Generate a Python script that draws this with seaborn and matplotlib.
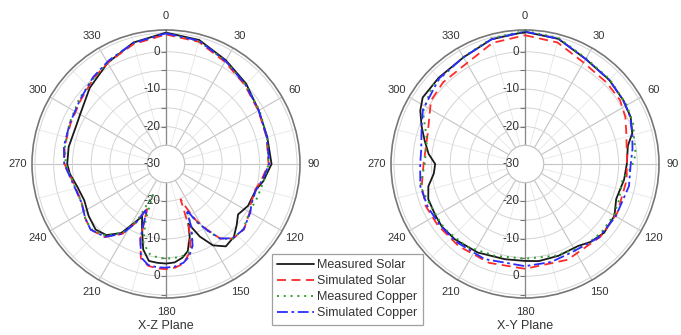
import numpy as np
import pandas as pd
import matplotlib
matplotlib.use("Agg")
import matplotlib.pyplot as plt
import seaborn as sns

# ---- data (dB vs angle in degrees) ----
xz_black_ang = [0, 15, 30, 45, 60, 75, 90, 100, 106, 117, 125, 131, 137, 144, 150, 155, 159.5,
                162, 166, 170, 175, 180, 185, 190, 195, 201, 204.5, 208.5, 213, 220, 227, 236,
                246, 256, 264, 270, 280, 294, 300, 315, 330, 345, 360]
xz_black = [5.1, 4.3, 2.0, 0.3, -1.4, -2.0, -1.8, -3.6, -5.0, -5.4, -6.5, -5.0, -3.4, -2.8, -4.9,
            -8.6, -13.0, -9.5, -6.0, -4.6, -3.6, -3.4, -3.5, -3.7, -6.4, -12.1, -14.6, -12.0, -8.0,
            -5.2, -4.3, -5.1, -6.1, -5.5, -4.2, -3.6, -3.6, -3.9, -3.5, -1.2, 1.2, 3.6, 5.1]

xz_red_ang = [0, 15, 30, 45, 60, 75, 90, 100, 106, 115, 120, 130, 138, 144, 148, 152, 155, 157.5,
              160, 164, 170, 175, 180, 185, 190, 195, 199, 203, 207, 212, 220, 229, 236, 246,
              260, 270, 280, 293, 307, 320, 331, 345, 360]
xz_red = [4.6, 3.8, 1.5, -0.2, -1.5, -2.2, -2.6, -4.2, -5.2, -5.0, -4.2, -2.8, -3.2, -5.4, -9.4,
          -13.0, -17.0, -19.8, -12.0, -6.0, -3.0, -2.2, -1.9, -2.0, -2.4, -4.0, -9.0, -17.5, -12.5,
          -8.0, -4.5, -3.3, -4.0, -5.3, -4.6, -2.9, -2.5, -2.3, -1.5, 0.0, 1.3, 3.2, 4.6]

xz_green_ang = [0, 15, 30, 45, 60, 75, 90, 100, 110, 120, 130, 138, 144, 148, 152, 156, 158,
                162, 166, 170, 175, 180, 185, 190, 196, 200, 203, 207, 212, 220, 229, 236, 246,
                262, 270, 280, 293, 307, 318, 331, 345, 360]
xz_green = [4.9, 4.0, 1.8, 0.0, -1.2, -2.0, -2.6, -3.5, -4.0, -4.3, -3.0, -3.2, -5.2, -9.0,
            -12.5, -16.6, -12.0, -7.0, -5.6, -5.0, -4.8, -4.7, -4.9, -5.5, -8.0, -14.0, -21.0,
            -13.0, -8.5, -5.0, -3.5, -4.0, -5.2, -4.4, -3.2, -2.6, -2.0, -1.0, -0.2, 1.5, 3.5, 4.9]

xz_blue_ang = [0, 15, 30, 45, 60, 75, 90, 100, 106, 115, 120, 130, 138, 144, 148, 152, 156,
               158, 162, 166, 170, 175, 180, 185, 190, 195, 199, 203, 207, 212, 220, 229, 236,
               246, 260, 270, 280, 293, 307, 320, 331, 345, 360]
xz_blue = [4.9, 4.1, 1.8, 0.0, -1.4, -2.1, -2.4, -4.0, -5.0, -4.8, -4.0, -2.9, -3.3, -5.4, -9.0,
           -12.5, -16.6, -12.0, -7.0, -4.5, -3.2, -2.5, -2.3, -2.3, -2.6, -4.2, -9.0, -17.0,
           -12.5, -8.0, -4.6, -3.3, -4.0, -5.2, -4.4, -2.8, -2.3, -2.1, -1.3, 0.3, 1.6, 3.5, 4.9]

xy_black_ang = [0, 15, 30, 45, 57, 66, 74, 80, 90, 99, 111, 120, 131, 140, 147, 160, 172, 180,
                192, 208, 223, 233, 240, 250, 257, 264, 270, 276, 283, 290, 297, 303, 315, 330,
                345, 360]
xy_black = [5.3, 4.6, 2.4, 1.8, 1.3, 0.9, -0.2, -2.1, -2.8, -3.2, -3.9, -2.4, -2.0, -2.8, -3.9,
            -3.9, -3.8, -4.1, -4.0, -3.2, -2.5, -2.2, -2.4, -2.5, -3.5, -5.5, -6.0, -4.1, -2.5,
            -0.6, 1.4, 2.6, 2.6, 2.9, 4.5, 5.3]

xy_red_ang = [0, 15, 30, 45, 56, 65, 73, 86, 99, 118, 134, 156, 180, 200, 219, 235, 247, 258,
              270, 287, 304, 315, 330, 345, 360]
xy_red = [4.4, 3.6, 1.3, 0.8, 0.6, -0.4, -1.7, -2.7, -2.5, -2.1, -2.0, -2.0, -2.0, -1.9, -1.8,
          -1.5, -1.2, -1.8, -2.9, -2.8, 0.3, 0.9, 1.1, 3.5, 4.4]

xy_green_ang = [0, 15, 30, 45, 60, 70, 78, 85, 92, 99, 111, 120, 132, 144, 162, 180, 198, 215,
                231, 239, 250, 258, 270, 284, 297, 310, 330, 345, 360]
xy_green = [5.6, 4.8, 2.6, 2.0, 1.4, 0.8, -0.2, -0.3, -1.6, -3.6, -3.1, -2.6, -2.6, -2.9, -4.2,
            -4.7, -4.2, -3.0, -2.4, -2.6, -2.2, -1.4, -3.2, -3.0, 0.6, 2.4, 3.0, 4.7, 5.6]

xy_blue_ang = [0, 15, 30, 45, 57, 66, 74, 82, 91, 102, 120, 135, 152, 165, 180, 203, 222, 235,
               246, 258, 270, 278, 290, 298, 315, 330, 345, 360]
xy_blue = [5.4, 4.6, 2.4, 1.8, 1.3, 0.8, -0.2, -1.0, -1.8, -1.6, -2.0, -2.2, -3.3, -2.9, -2.7,
           -2.4, -2.2, -2.0, -1.6, -1.4, -2.0, -2.0, -0.6, 0.9, 2.4, 2.9, 4.5, 5.4]

series_names = ["Measured Solar", "Simulated Solar", "Measured Copper", "Simulated Copper"]
series_colors = ["#1a1a1a", "#ff2a2a", "#2ca02c", "#2b2bff"]
series_styles = ["-", (0, (5, 3)), (0, (1, 2.5)), (0, (6, 2, 1.5, 2))]
series_widths = [1.3, 1.3, 1.4, 1.3]

xz_sets = [(xz_black_ang, xz_black), (xz_red_ang, xz_red),
           (xz_green_ang, xz_green), (xz_blue_ang, xz_blue)]
xy_sets = [(xy_black_ang, xy_black), (xy_red_ang, xy_red),
           (xy_green_ang, xy_green), (xy_blue_ang, xy_blue)]

r_min, r_hole, r_max = -30, -25, 5.8
ring_major = [-20, -10, 0]
ring_minor = [-15, -5, 5]
radial_labels = [0, -10, -20]

sns.set_theme(style="white")
plt.rcParams["font.family"] = ["Liberation Sans", "DejaVu Sans"]
plt.rcParams["text.color"] = "#333333"

fig = plt.figure(figsize=(6.81, 3.35), dpi=100)
W, H = 681, 335
rad_px = 134


def make_axes(cx, cy):
    return fig.add_axes([(cx - rad_px) / W, (H - cy - rad_px) / H, 2 * rad_px / W, 2 * rad_px / H],
                        projection="polar")


def style_polar(ax):
    ax.set_theta_zero_location("N")
    ax.set_theta_direction(-1)
    ax.set_rorigin(r_min)
    ax.set_ylim(r_hole, r_max)
    ax.set_facecolor("white")
    ax.set_xticks(np.deg2rad(np.arange(0, 360, 30)))
    ax.set_xticklabels([str(a) for a in range(0, 360, 30)], fontsize=8, color="#333333")
    ax.set_xticks(np.deg2rad(np.arange(15, 360, 30)), minor=True)
    ax.tick_params(axis="x", which="major", pad=3, direction="in", length=4, color="#777777")
    ax.tick_params(axis="x", which="minor", direction="in", length=3, color="#777777")
    ax.set_yticks(ring_major + ring_minor)
    ax.set_yticklabels([])
    ax.xaxis.grid(True, which="major", color="#c4c4c4", lw=0.8)
    ax.xaxis.grid(True, which="minor", color="#e6e6e6", lw=0.6)
    ax.yaxis.grid(True, color="#d4d4d4", lw=0.7)
    for sp in ax.spines.values():
        sp.set_color("#777777")
        sp.set_linewidth(1.2)
    ax.spines["inner"].set_color("#c4c4c4")
    ax.spines["inner"].set_linewidth(0.9)
    ax.axvline(0, color="#888888", lw=0.9, zorder=1)
    ax.axvline(np.pi, color="#888888", lw=0.9, zorder=1)
    ax.set_axisbelow(True)
    # radial scale along the vertical axis
    ticks = ring_major + ring_minor
    ax.plot(np.zeros(len(ticks)), ticks, ls="none", marker=0, ms=3.5, color="#777777",
            mew=0.8, clip_on=False)
    ax.plot(np.full(len(ticks), np.pi), ticks, ls="none", marker=0, ms=3.5, color="#777777",
            mew=0.8, clip_on=False)
    for v in radial_labels:
        for th in (0, np.pi):
            ax.annotate(str(v), xy=(th, v), xytext=(-4, 0), textcoords="offset points",
                        ha="right", va="center", fontsize=8.5, color="#333333")
    ax.annotate(str(r_min), xy=(0.5, 0.5), xycoords="axes fraction", xytext=(-4, 0),
                textcoords="offset points", ha="right", va="center", fontsize=8.5,
                color="#333333")
    ax.set_xlabel("")
    ax.set_ylabel("")


def draw(ax, sets):
    for (ang, val), name, c, ls, lw in zip(sets, series_names, series_colors, series_styles,
                                           series_widths):
        df = pd.DataFrame({"theta": np.deg2rad(ang), "r": val})
        sns.lineplot(data=df, x="theta", y="r", ax=ax, sort=False, color=c, lw=lw,
                     linestyle=ls, label=name, legend=False, zorder=3)


ax1 = make_axes(166, 164)
ax2 = make_axes(525, 164)
for ax, sets in ((ax1, xz_sets), (ax2, xy_sets)):
    draw(ax, sets)
    style_polar(ax)

fig.text(166 / W, 1 - 326 / H, "X-Z Plane", ha="center", va="center", fontsize=9)
fig.text(525 / W, 1 - 326 / H, "X-Y Plane", ha="center", va="center", fontsize=9)

handles, labels = ax1.get_legend_handles_labels()
leg = fig.legend(handles, labels, loc="upper left", bbox_to_anchor=(272 / W, 1 - 254 / H),
                 fontsize=9, frameon=True, fancybox=False, edgecolor="#888888",
                 handlelength=2.9, handletextpad=0.3, labelspacing=0.32, borderpad=0.42,
                 borderaxespad=0)
leg.get_frame().set_linewidth(0.9)

fig.savefig("out.png", dpi=100)
